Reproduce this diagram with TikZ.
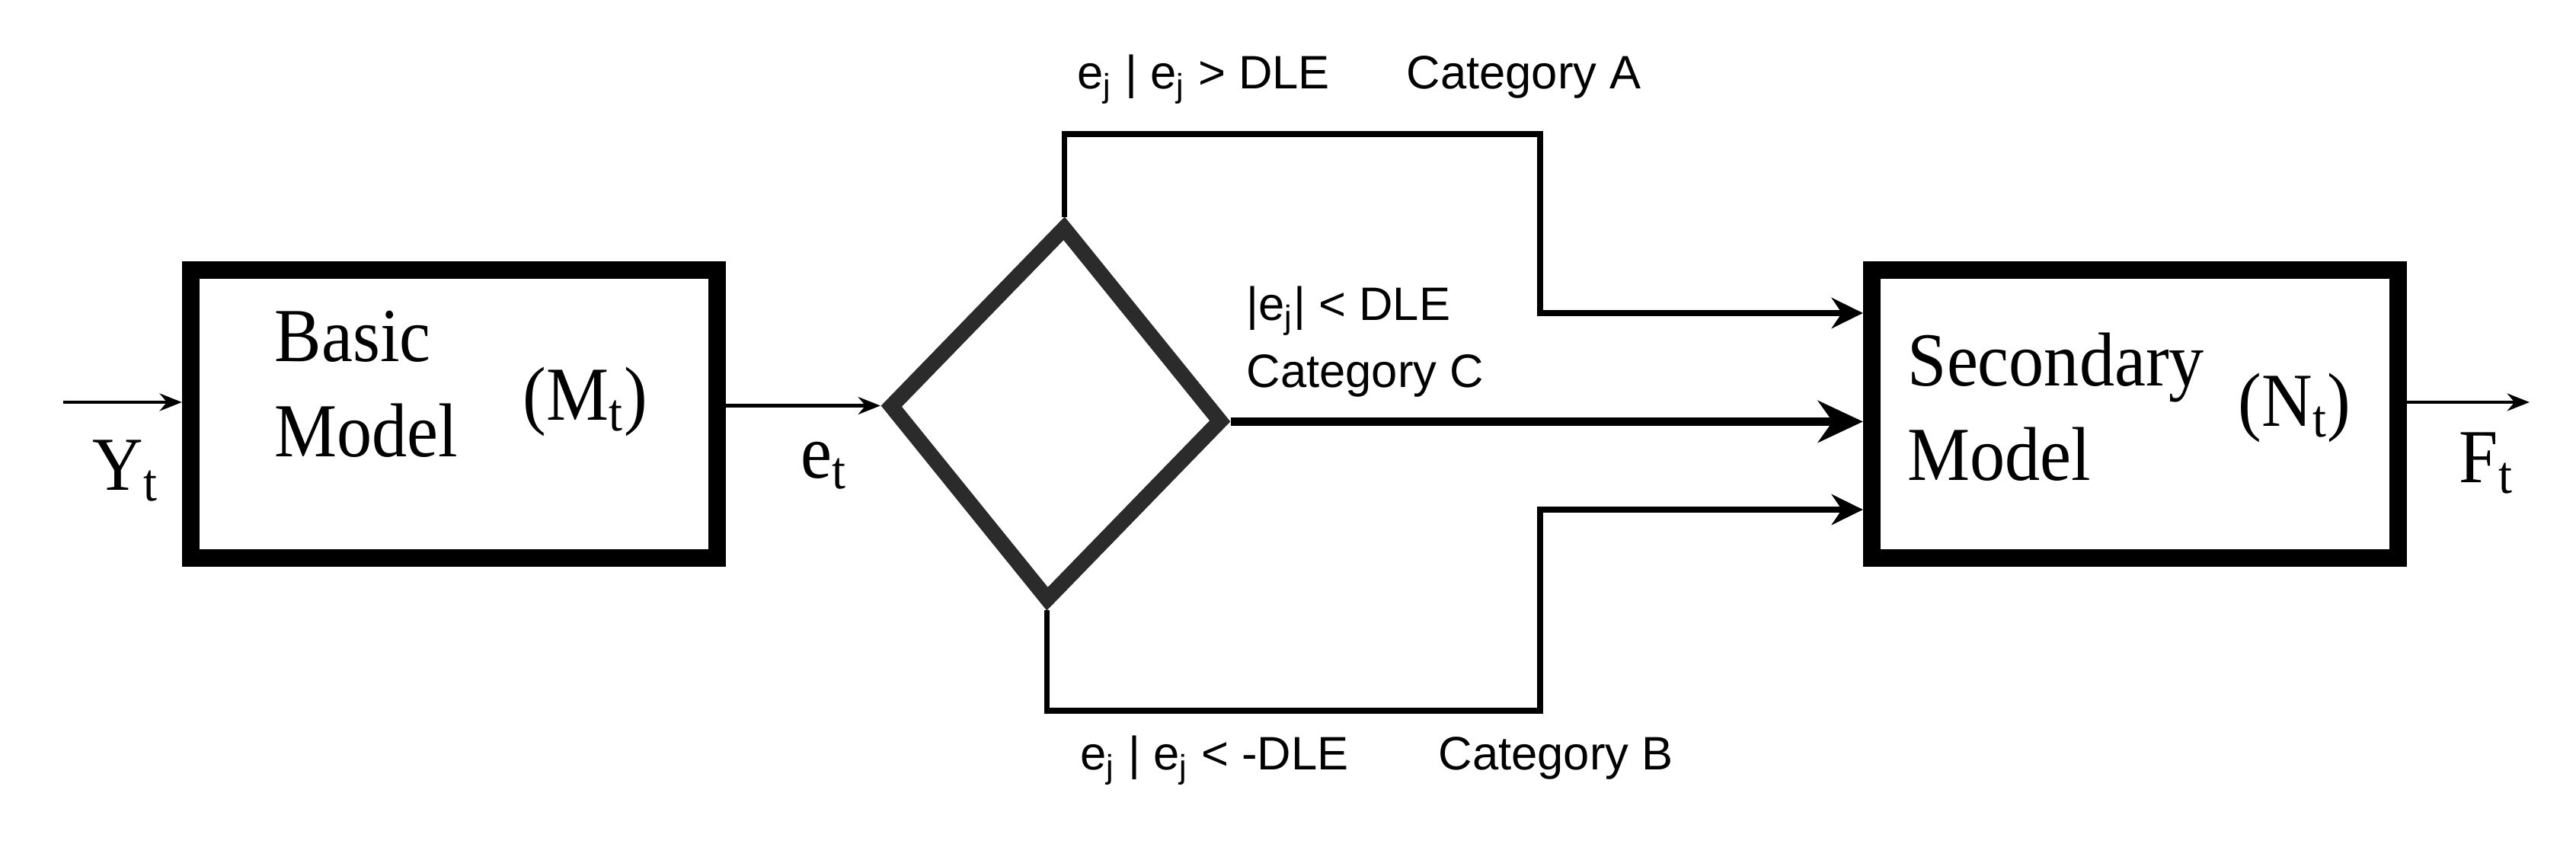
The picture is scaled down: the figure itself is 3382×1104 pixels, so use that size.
\documentclass[tikz,border=0pt]{standalone}
\usepackage{fontspec}
\setmainfont{Liberation Serif}[FakeStretch=0.92]
\setsansfont{Liberation Sans}
\usetikzlibrary{arrows.meta,shapes.geometric}

\tikzset{
  model/.style={draw, line width=6.5pt, minimum width=6.91cm, minimum height=3.78cm, inner sep=0},
  decide/.style={diamond, draw=black!83, line width=5.8pt, minimum width=4.4cm,
    minimum height=4.95cm, inner sep=0, rotate=-2.6},
  serif/.style={font=\fontsize{28.5}{34}\selectfont, inner sep=0, anchor=base west},
  cond/.style={font=\sffamily\fontsize{17.5}{20}\selectfont, inner sep=0, anchor=base west},
  feed/.style={line width=1.4pt, -{Stealth[length=8.3pt,width=6.5pt]}},
  sideflow/.style={line width=2.1pt, -{Stealth[length=11.7pt,width=11.4pt]}},
  midflow/.style={line width=2.9pt, -{Stealth[length=16.8pt,width=15.6pt]}},
}

\begin{document}
\begin{tikzpicture}[x=0.01cm, y=-0.01cm]
      \useasboundingbox (0,0) rectangle (3382,1104);
      % blocks
      \node[model] (basic) at (596,543.5) {};
      \node[model] (second) at (2803,543.5) {};
      \node[decide] (dle) at (1386,543) {};
      % block texts
      \node[serif] (basic1) at (360,475) {Basic};
      \node[serif] (basic2) at (360,600) {Model};
      \node[serif] (mt) at (686,552) {(M\textsubscript{t})};
      \node[serif] (second1) at (2504,507) {Secondary};
      \node[serif] (second2) at (2504,631) {Model};
      \node[serif] (nt) at (2938,560) {(N\textsubscript{t})};
      \node[serif] (yt) at (121,644) {Y\textsubscript{t}};
      \node[serif] (et) at (1051,628) {e\textsubscript{t}};
      \node[serif] (ft) at (3228,634) {F\textsubscript{t}};
      % conditions
      \node[cond] (condA) at (1414,117) {e\textsubscript{j} | e\textsubscript{j} > DLE};
      \node[cond] (catA) at (1846,117) {Category A};
      \node[cond] (condC) at (1636,421) {|e\textsubscript{j}| < DLE};
      \node[cond] (catC) at (1636,509) {Category C};
      \node[cond] (condB) at (1418,1011) {e\textsubscript{j} | e\textsubscript{j} < -DLE};
      \node[cond] (catB) at (1888,1011) {Category B};
      % turning points
      \coordinate (yin) at (83,528);
      \coordinate (fout) at (3321,528);
      \coordinate (atop) at (2022,176);
      \coordinate (ain) at (2022,411);
      \coordinate (bbot) at (2022,933);
      \coordinate (bin) at (2022,669);
      % connectors
      \draw[feed] (yin) -- (yin -| basic.west);
      \draw[feed] (basic.east |- dle.west) -- (dle.west);
      \draw[feed] (fout -| second.east) -- (fout);
      \draw[sideflow] (dle.north) |- (atop) |- (ain -| second.west);
      \draw[midflow] (dle.east) -- (dle.east -| second.west);
      \draw[sideflow] (dle.south) |- (bbot) |- (bin -| second.west);
    \end{tikzpicture}
\end{document}
